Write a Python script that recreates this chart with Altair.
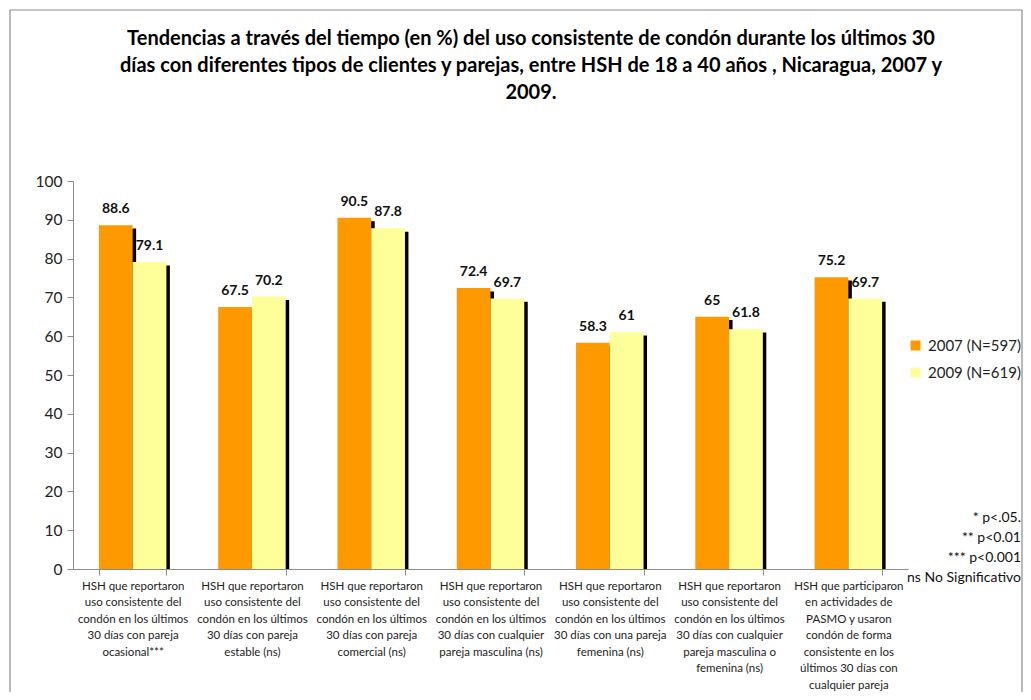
import altair as alt
import pandas as pd

title_lines = [
    "Tendencias a través del tiempo (en %) del uso consistente de condón durante los últimos 30",
    "días con diferentes tipos de clientes y parejas, entre HSH de 18 a 40 años , Nicaragua, 2007 y",
    "2009.",
]

categories = [
    "HSH que reportaron|uso consistente del|condón en los últimos|30 días con pareja|ocasional***",
    "HSH que reportaron|uso consistente del|condón en los últimos|30 días con pareja|estable (ns)",
    "HSH que reportaron|uso consistente del|condón en los últimos|30 días con pareja|comercial (ns)",
    "HSH que reportaron|uso consistente del|condón en los últimos|30 días con cualquier|pareja masculina (ns)",
    "HSH que reportaron|uso consistente del|condón en los últimos|30 días con una pareja|femenina (ns)",
    "HSH que reportaron|uso consistente del|condón en los últimos|30 días con cualquier|pareja masculina o|femenina (ns)",
    "HSH que participaron|en actividades de|PASMO y usaron|condón de forma|consistente en los|últimos 30 días con|cualquier pareja|masculina (ns)",
]

years = ["2007 (N=597)", "2009 (N=619)"]
values_2007 = [88.6, 67.5, 90.5, 72.4, 58.3, 65, 75.2]
values_2009 = [79.1, 70.2, 87.8, 69.7, 61, 61.8, 69.7]
labels_2007 = ["88.6", "67.5", "90.5", "72.4", "58.3", "65", "75.2"]
labels_2009 = ["79.1", "70.2", "87.8", "69.7", "61", "61.8", "69.7"]
colors = ["#FF9900", "#FFFF99"]
y_ticks = [0, 10, 20, 30, 40, 50, 60, 70, 80, 90, 100]
footnotes = ["* p<.05.", "** p<0.01", "*** p<0.001", "ns No Significativo"]

rows = []
for c, v, l in zip(categories, values_2007, labels_2007):
    rows.append({"cat": c, "year": years[0], "value": v, "label": l})
for c, v, l in zip(categories, values_2009, labels_2009):
    rows.append({"cat": c, "year": years[1], "value": v, "label": l})
df = pd.DataFrame(rows)

FONT = "Lato"

x_enc = alt.X(
    "cat:N",
    sort=categories,
    scale=alt.Scale(paddingInner=0.434, paddingOuter=0.217),
    axis=alt.Axis(
        title=None,
        labelExpr="split(datum.label, '|')",
        labelAngle=0,
        labelLimit=0,
        tickBand="extent",
        tickSize=6,
        labelPadding=5,
        labelFontSize=11.5,
        labelLineHeight=16.5,
        labelFont=FONT,
        labelColor="#222222",
        domainColor="#8c8c8c",
        tickColor="#8c8c8c",
    ),
)
y_enc = alt.Y(
    "value:Q",
    scale=alt.Scale(domain=[0, 100], nice=False),
    axis=alt.Axis(
        title=None,
        values=y_ticks,
        grid=False,
        tickSize=6,
        labelPadding=5,
        labelFontSize=15.5,
        labelFont=FONT,
        labelColor="#222222",
        domainColor="#8c8c8c",
        tickColor="#8c8c8c",
    ),
)
xoff = alt.XOffset("year:N", sort=years)

base = alt.Chart(df)

# drop shadow: same bars, shifted right through an independent offset scale and down by yOffset
shadow = base.mark_bar(color="black", yOffset=3.3, clip=True).encode(
    x=x_enc,
    xOffset=alt.XOffset("year:N", sort=years, scale=alt.Scale(range=[3.5, 71.0])),
    y=y_enc,
)

bars = base.mark_bar().encode(
    x=x_enc,
    xOffset=xoff,
    y=y_enc,
    color=alt.Color(
        "year:N",
        scale=alt.Scale(domain=years, range=colors),
        legend=alt.Legend(
            title=None,
            orient="none",
            legendX=835,
            legendY=157,
            symbolType="square",
            symbolSize=100,
            symbolStrokeWidth=0,
            labelFontSize=15,
            labelFont=FONT,
            labelColor="#222222",
            rowPadding=11,
            padding=0,
            labelOffset=5,
        ),
    ),
)

text = base.mark_text(
    fontWeight="bold", fontSize=14, font=FONT, baseline="bottom", dy=-9, color="#111111"
).encode(x=x_enc, xOffset=xoff, y=y_enc, text="label:N")

one = pd.DataFrame({"k": [0]})

title = alt.Chart(one).mark_text(
    align="center", baseline="middle", fontSize=20, fontWeight="bold", font=FONT,
    lineHeight=27, color="#000000"
).encode(x=alt.value(458), y=alt.value(-142), text=alt.value(title_lines))

notes = alt.Chart(one).mark_text(
    align="right", baseline="top", fontSize=14, font=FONT, lineHeight=20, color="#111111"
).encode(x=alt.value(948), y=alt.value(330), text=alt.value(footnotes))

frame = alt.Chart(one).mark_rect(fill="transparent", stroke="#8c8c8c", strokeWidth=1.2).encode(
    x=alt.value(-63), x2=alt.value(949), y=alt.value(-171), y2=alt.value(650)
)

chart = (
    alt.layer(frame, shadow, bars, text, title, notes)
    .resolve_scale(xOffset="independent")
    .properties(
        width=835,
        height=388,
        autosize=alt.AutoSizeParams(type="none"),
        padding={"left": 65, "top": 173, "right": 115, "bottom": 123},
    )
    .configure_view(stroke=None)
)

chart.save("out.html", embed_options={"renderer": "svg", "actions": False})
